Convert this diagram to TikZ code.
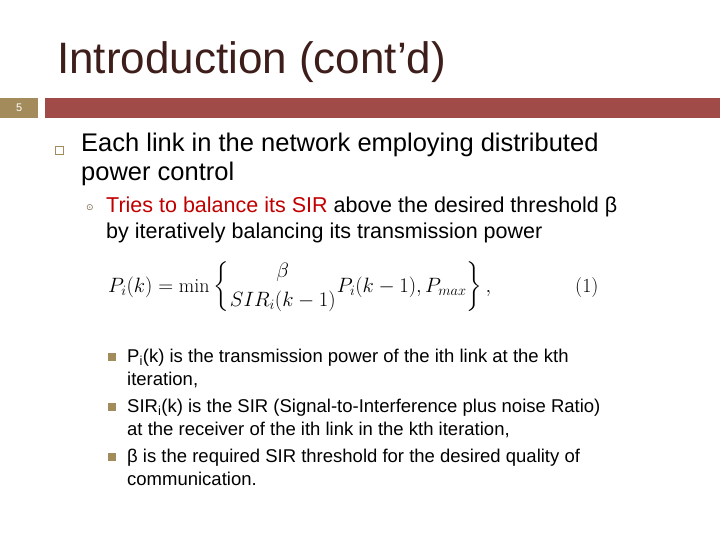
\documentclass[tikz,border=0pt]{standalone}
\usepackage{fontspec}
\setmainfont{Liberation Sans}
\newfontfamily\djv{DejaVu Sans}
\newfontfamily\lmr{Latin Modern Roman}
\usepackage{amsmath}
\definecolor{tband}{HTML}{A38B5C}
\definecolor{rband}{HTML}{A04B47}
\definecolor{ttl}{HTML}{3E1E1A}
\definecolor{redt}{HTML}{C00000}
\begin{document}
\begin{tikzpicture}[x=1pt,y=1pt,
  txt/.style={anchor=base west,inner sep=0pt,align=left}]
\useasboundingbox (0,0) rectangle (720,-540);
\node[txt,font=\fontsize{44}{50}\selectfont,text=ttl] (title) at (57,-74) {Introduction (cont’d)};
\fill[tband] (0,-98) rectangle (38,-118);
\node[txt,font=\fontsize{11}{12}\selectfont,text=white] (num) at (16,-112) {5};
\fill[rband] (45,-98) rectangle (720,-118);
\draw[tband,line width=1pt] (55.5,-146.5) rectangle (63.5,-154.5);
\node[txt,font=\fontsize{25.5}{29}\selectfont] (l1) at (81,-181) {Each link in the network employing distributed\\power control};
\node[txt,font=\fontsize{9}{9}\selectfont\djv,text=tband!70!black] (b2) at (86,-211) {⊙};
\node[txt,font=\fontsize{21.5}{26}\selectfont,text=redt] (l2) at (106,-239) {Tries to balance its SIR \textcolor{black}{above the desired threshold β}\\ \textcolor{black}{by iteratively balancing its transmission power}};
\node[txt,font=\fontsize{20}{22}\selectfont] (eq) at (108,-292) {$\displaystyle P_i(k)=\text{\lmr min}\left\{\genfrac{}{}{0pt}{}{\beta}{SIR_i(k-1)}P_i(k-1),P_{max}\right\},$};
\node[txt,font=\fontsize{20}{22}\selectfont\lmr] (eqn) at (575,-292) {(1)};
\foreach \y in {-361,-411,-461}{\fill[tband] (108,\y) rectangle (116,\y+8);}
\node[txt,font=\fontsize{18.5}{23}\selectfont] (p1) at (127,-385) {P\textsubscript{i}(k) is the transmission power of the ith link at the kth\\iteration,};
\node[txt,font=\fontsize{18.5}{23}\selectfont] (p2) at (127,-435) {SIR\textsubscript{i}(k) is the SIR (Signal-to-Interference plus noise Ratio)\\at the receiver of the ith link in the kth iteration,};
\node[txt,font=\fontsize{18.5}{23}\selectfont] (p3) at (127,-485) {β is the required SIR threshold for the desired quality of\\communication.};
\end{tikzpicture}
\end{document}
